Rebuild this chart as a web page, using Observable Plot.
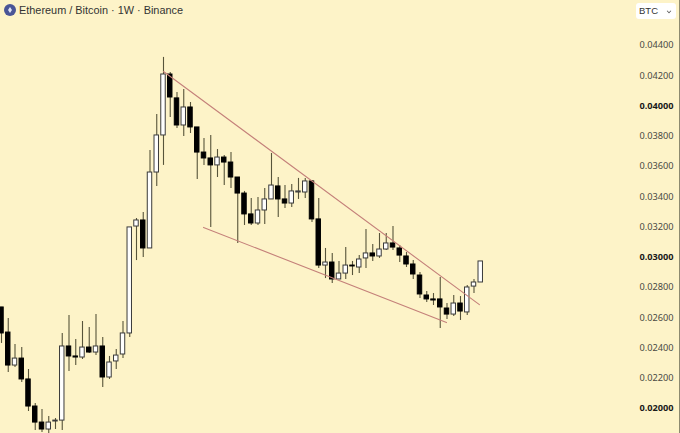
<!DOCTYPE html>
<html><head><meta charset="utf-8">
<script src="https://cdn.jsdelivr.net/npm/d3@7"></script>
<script src="https://cdn.jsdelivr.net/npm/@observablehq/plot@0.6"></script>
<style>
html,body{margin:0;padding:0;background:#fdf3c8;overflow:hidden}
#page{width:680px;height:433px;position:relative;background:#fdf3c8;font-family:"Liberation Sans",sans-serif}
#head{height:20px;position:relative}
#title{position:absolute;left:4px;top:3px;display:flex;align-items:center;font-size:10.9px;color:#333;line-height:14px;white-space:nowrap}
#icon{display:inline-block;width:12px;height:12px;border-radius:50%;background:#4a5596;margin-right:3px;position:relative}
#icon:after{content:"";position:absolute;left:4px;top:3px;width:4px;height:6px;background:#dfe3f4;clip-path:polygon(50% 0,100% 50%,50% 100%,0 50%)}
#cur{position:absolute;left:636px;top:3px;width:40px;height:16px;background:#fff;border-radius:3px;font-size:9.5px;line-height:16px;color:#333;text-indent:3px}
#cur:after{content:"";position:absolute;right:5px;top:6px;width:3px;height:3px;border-right:1px solid #555;border-bottom:1px solid #555;transform:rotate(45deg) scale(.8)}
#edge{position:absolute;right:0;top:0;width:1px;height:433px;background:#8d8a70}
svg{display:block;background:transparent}
</style></head><body>
<div id="page">
<div id="head"><div id="title"><span id="icon"></span><span>Ethereum / Bitcoin · 1W · Binance</span></div><div id="cur">BTC</div></div>
<div id="chart"></div>
<div id="edge"></div>
</div>
<script>
const highs=[.02668,.02595,.02423,.02403,.02258,.02033,.01993,.01947,.01934,.02496,.02615,.02456,.02575,.02535,.02621,.02469,.02344,.0239,.02575,.03197,.03256,.03296,.03706,.03944,.04321,.04221,.04089,.04109,.04023,.03858,.03785,.03805,.03712,.03673,.03692,.03527,.03435,.03388,.03395,.03454,.03686,.03527,.03474,.03481,.03521,.03521,.03507,.03388,.03058,.03025,.02972,.03064,.02972,.03011,.03183,.03084,.03157,.03157,.03203,.03078,.03031,.02978,.02899,.02773,.0276,.02866,.02694,.02747,.0274,.02813,.02853,.02972];
const bodyTops=[.02668,.02502,.0233,.0233,.02192,.02013,.01907,.01907,.0192,.0241,.0241,.02344,.02403,.02403,.0241,.0241,.02304,.0235,.02496,.03197,.03243,.03243,.0356,.03805,.04208,.04208,.0405,.0399,.0399,.03858,.03692,.03653,.03659,.03659,.03626,.03527,.03421,.03283,.03309,.03382,.03474,.03468,.03382,.03435,.03435,.03501,.03501,.0325,.02965,.02965,.02892,.02945,.02945,.02985,.03025,.03025,.03051,.03091,.03091,.03058,.03005,.02952,.02879,.02747,.02721,.02721,.02661,.02694,.02694,.028,.02833,.02972];
const bodyBottoms=[.02496,.02284,.02284,.02192,.02013,.01907,.01861,.01861,.01914,.0192,.02344,.02337,.02337,.0237,.0237,.02205,.02205,.02311,.02357,.02496,.03203,.03058,.03058,.0356,.03805,.04056,.03871,.03871,.03858,.03692,.03653,.03607,.03607,.03626,.03527,.03421,.03283,.03223,.03223,.03309,.03382,.03382,.03355,.03355,.03428,.03428,.0325,.02945,.02945,.02853,.02853,.02892,.02939,.02932,.02992,.03005,.03005,.03051,.03064,.03011,.02952,.02886,.02754,.02721,.02714,.02668,.02621,.02621,.02641,.02635,.02806,.02833];
const lows=[.0243,.02238,.02271,.02172,.0198,.01854,.01841,.01835,.01861,.01854,.02244,.02284,.02324,.02363,.0235,.02139,.02192,.02258,.0233,.02469,.02978,.02998,.03058,.03468,.03607,.03924,.03851,.03798,.03818,.03514,.03607,.03197,.03527,.03474,.03454,.03091,.0321,.0321,.0321,.03216,.03382,.03263,.03322,.03329,.03382,.03388,.0323,.02926,.02859,.02826,.02853,.02853,.02879,.02892,.02926,.02972,.02992,.03044,.03044,.02965,.02932,.02853,.02727,.02701,.02681,.02529,.02588,.02608,.02582,.02615,.0276,.02833];
const directions=[..."BBWBBBBWWW"+"BBWBWBWWWW"+"WBWWWBBWBB"+"BBWBBBBBWW"+"WBBWWWBBWB"+"WWBWWBWWBB"+"BBBBBBBWBW"+"WW"];
const upperTrend=[{i:24,p:.04228},{i:70.8,p:.02687}];
const lowerTrend=[{i:29.93,p:.03197},{i:65.93,p:.02568}];
const minorTicks=[.022,.024,.026,.028,.032,.034,.036,.038,.042,.044];
const majorTicks=[.02,.03,.04];
const candles=highs.map((h,i)=>({i,h,t:bodyTops[i],b:bodyBottoms[i],l:lows[i],w:directions[i]==="W"}));
const fmt=d=>d.toFixed(5);
const chart=Plot.plot({
  width:680,height:413,margin:0,marginRight:41,
  x:{type:"linear",domain:[-0.148,94.52],axis:null},
  y:{type:"linear",domain:[.018347,.04565],axis:null},
  marks:[
    Plot.ruleX(candles,{x:"i",y1:"l",y2:"h",stroke:"#57543a",strokeWidth:1.1}),
    Plot.rect(candles,{x1:d=>d.i-.33,x2:d=>d.i+.33,y1:"b",y2:"t",fill:d=>d.w?"#ffffff":"#000000",stroke:d=>d.w?"#3a3a3a":"#000000",strokeWidth:1}),
    Plot.line(upperTrend,{x:"i",y:"p",stroke:"#c4807a",strokeWidth:1.1}),
    Plot.line(lowerTrend,{x:"i",y:"p",stroke:"#c4807a",strokeWidth:1.1}),
    Plot.axisY(minorTicks,{anchor:"right",tickSize:0,tickPadding:0,tickFormat:fmt,fontSize:9.2,fill:"#4a4a44",label:null}),
    Plot.axisY(majorTicks,{anchor:"right",tickSize:0,tickPadding:0,tickFormat:fmt,fontSize:9.2,fontWeight:"bold",fill:"#1a1a1a",label:null})
  ]
});
document.getElementById("chart").append(chart);
</script>
</body></html>
